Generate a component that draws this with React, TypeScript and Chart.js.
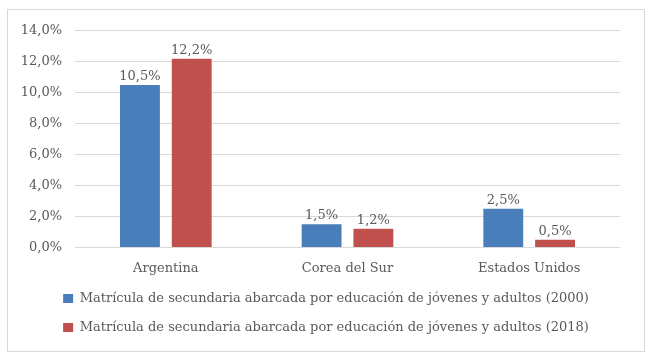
import React, { useEffect, useRef } from "react";
import { Chart, registerables } from "chart.js";

Chart.register(...registerables);

const categories = ["Argentina", "Corea del Sur", "Estados Unidos"];
const series2000 = [10.5, 1.5, 2.5];
const series2018 = [12.2, 1.2, 0.5];
const seriesNames = [
  "Matrícula de secundaria abarcada por educación de jóvenes y adultos (2000)",
  "Matrícula de secundaria abarcada por educación de jóvenes y adultos (2018)",
];
const yMin = 0;
const yMax = 14;
const yStep = 2;

const FONT = "'DejaVu Serif', serif";
const TEXT = "#595959";

const fmt = (v: number) => v.toFixed(1).replace(".", ",") + "%";

const dataLabels = {
  id: "dataLabels",
  afterDatasetsDraw(chart: any) {
    const ctx = chart.ctx;
    ctx.save();
    ctx.font = `13px ${FONT}`;
    ctx.fillStyle = TEXT;
    ctx.textAlign = "center";
    ctx.textBaseline = "bottom";
    chart.data.datasets.forEach((ds: any, i: number) => {
      const meta = chart.getDatasetMeta(i);
      meta.data.forEach((el: any, j: number) => {
        ctx.fillText(fmt(ds.data[j]), el.x, el.y - 2);
      });
    });
    ctx.restore();
  },
};

const legendShift = {
  id: "legendShift",
  afterLayout(chart: any) {
    if (chart.legend) {
      chart.legend.left += 12;
      chart.legend.right += 12;
    }
  },
};

export default function App() {
  const ref = useRef<HTMLCanvasElement>(null);
  useEffect(() => {
    if (!ref.current) return;
    const chart = new Chart(ref.current, {
      type: "bar",
      data: {
        labels: categories,
        datasets: [
          {
            label: seriesNames[0],
            data: series2000,
            backgroundColor: "#4A7EBB",
            barPercentage: 0.77,
            categoryPercentage: 0.57,
          },
          {
            label: seriesNames[1],
            data: series2018,
            backgroundColor: "#C0504D",
            barPercentage: 0.77,
            categoryPercentage: 0.57,
          },
        ],
      },
      options: {
        animation: false,
        responsive: false,
        maintainAspectRatio: false,
        layout: { padding: { left: 0, right: 24, top: 19, bottom: 7 } },
        plugins: {
          tooltip: { enabled: false },
          legend: {
            position: "bottom",
            labels: {
              boxWidth: 10,
              boxHeight: 9,
              padding: 16,
              color: TEXT,
              font: { family: FONT, size: 13 },
            },
          },
        },
        scales: {
          x: {
            grid: { display: false, drawTicks: false },
            border: { display: false },
            afterFit: (s: any) => {
              s.height = s.height - 13;
            },
            ticks: { color: TEXT, font: { family: FONT, size: 13 }, padding: 13 },
          },
          y: {
            min: yMin,
            max: yMax,
            grid: { color: "#D9D9D9", drawTicks: false },
            border: { display: false },
            afterFit: (s: any) => {
              s.width = 67;
            },
            ticks: {
              stepSize: yStep,
              color: TEXT,
              padding: 13,
              font: { family: FONT, size: 13 },
              callback: (v: any) => fmt(Number(v)),
            },
          },
        },
      },
      plugins: [dataLabels, legendShift],
    });
    return () => chart.destroy();
  }, []);
  return (
    <div
      style={{
        position: "absolute",
        left: 7,
        top: 9,
        width: 636,
        height: 341,
        border: "1px solid #D9D9D9",
        background: "#fff",
      }}
    >
      <canvas ref={ref} width={636} height={341} />
    </div>
  );
}
